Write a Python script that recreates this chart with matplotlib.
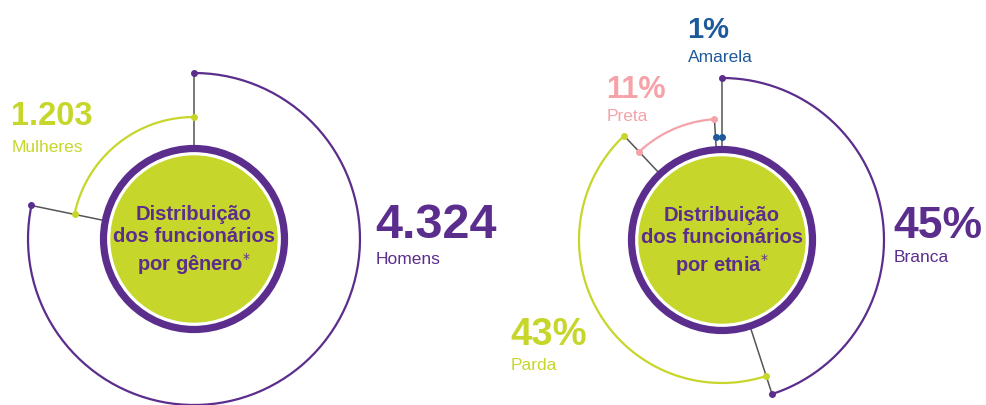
import numpy as np
import matplotlib.pyplot as plt
from matplotlib.patches import Circle

# gender data
gender_labels = ["Homens", "Mulheres"]
gender_values = [4324, 1203]
gender_texts = ["4.324", "1.203"]

# ethnicity data (%)
ethnic_labels = ["Branca", "Parda", "Preta", "Amarela"]
ethnic_values = [45, 43, 11, 1]
ethnic_texts = ["45%", "43%", "11%", "1%"]

purple = "#5b2d8c"
lime = "#c7d62b"
pink = "#f5a3a8"
blue = "#1e5a9a"
gray = "#555555"

plt.rcParams["font.family"] = ["Liberation Sans", "DejaVu Sans"]

fig = plt.figure(figsize=(9.87, 4.05), dpi=100)
ax = fig.add_axes([0, 0, 1, 1])
ax.set_xlim(0, 987)
ax.set_ylim(405, 0)
ax.axis("off")


def pt(cx, cy, r, ang):
    a = np.deg2rad(ang)
    return cx + r * np.cos(a), cy - r * np.sin(a)


def donut(cx, cy, values, radii, colors, title):
    fr = np.array(values, dtype=float) / sum(values)
    bounds = 90 - np.concatenate([[0], np.cumsum(fr) * 360])
    ring_r = 90.5
    # arcs
    for i in range(len(values)):
        a0, a1 = bounds[i], bounds[i + 1]
        t = np.linspace(a0, a1, 200)
        x, y = pt(cx, cy, radii[i], t)
        ax.plot(x, y, color=colors[i], lw=1.6, zorder=2, solid_capstyle="butt")
    # gray spokes at each boundary
    n = len(values)
    for i in range(n):
        ang = bounds[i]
        r_out = max(radii[i], radii[i - 1])
        x0, y0 = pt(cx, cy, ring_r, ang)
        x1, y1 = pt(cx, cy, r_out, ang)
        ax.plot([x0, x1], [y0, y1], color=gray, lw=1.1, zorder=1)
    # end dots
    for i in range(n):
        for ang in (bounds[i], bounds[i + 1]):
            x, y = pt(cx, cy, radii[i], ang)
            ax.plot(x, y, "o", color=colors[i], ms=4, zorder=3)
    ax.add_patch(Circle((cx, cy), 83, color=lime, zorder=4))
    ax.add_patch(Circle((cx, cy), ring_r, fill=False, ec=purple, lw=5.2, zorder=4))
    ax.text(cx, cy + 2, title, ha="center", va="center", color=purple,
            fontsize=14.5, fontweight="bold", linespacing=1.25, zorder=5)


donut(194, 239, gender_values, [166, 122], [purple, lime],
      "Distribuição\ndos funcionários\npor gênero$^{*}$")
donut(722, 240, ethnic_values, [162, 143, 121, 103], [purple, lime, pink, blue],
      "Distribuição\ndos funcionários\npor etnia$^{*}$")


# value labels: big number, then category name below
def label(x, y, big, small, color, size, y2):
    ax.text(x, y, big, color=color, fontsize=size, fontweight="bold",
            ha="left", va="baseline")
    ax.text(x + 1, y2, small, color=color, fontsize=12.5,
            ha="left", va="baseline")


label(375, 238, gender_texts[0], gender_labels[0], purple, 35, 264)
label(11, 125, gender_texts[1], gender_labels[1], lime, 23.5, 152)
label(893, 238, ethnic_texts[0], ethnic_labels[0], purple, 32, 262)
label(510, 345, ethnic_texts[1], ethnic_labels[1], lime, 27.5, 370)
label(606, 98, ethnic_texts[2], ethnic_labels[2], pink, 22, 121)
label(687, 38, ethnic_texts[3], ethnic_labels[3], blue, 21, 62)

fig.savefig("out.png", dpi=100)
